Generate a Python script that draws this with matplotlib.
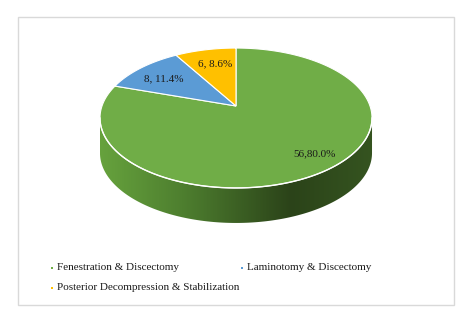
import numpy as np
import matplotlib.pyplot as plt
from matplotlib.patches import Polygon, Rectangle
from matplotlib.colors import LinearSegmentedColormap

plt.rcParams['font.family'] = ['Liberation Serif', 'DejaVu Serif']

# data
labels = ['Fenestration & Discectomy', 'Laminotomy & Discectomy',
          'Posterior Decompression & Stabilization']
counts = [56, 8, 6]
pcts = [80.0, 11.4, 8.6]
label_texts = ['56,80.0%', '8, 11.4%', '6, 8.6%']
colors = ['#70AD47', '#5B9BD5', '#FFC000']

fig = plt.figure(figsize=(4.66, 3.19), dpi=100)
ax = fig.add_axes([0, 0, 1, 1])
ax.set_xlim(0, 466)
ax.set_ylim(319, 0)
ax.axis('off')

# chart frame
ax.add_patch(Rectangle((18, 17), 436, 288, fill=False, ec='#d9d9d9', lw=1))

# perspective view of the pie disc (center projects to x0, y0)
x0, y0 = 236, 106
k = 0.1715
A, B = 134.0, 67.9
depth = 35


def pt(t, dz=0):
    r = np.radians(t)
    w = 1 + k * np.sin(r)
    return x0 + A * np.cos(r) / w, y0 - B * np.sin(r) / w + dz


# slice angles: yellow then blue counterclockwise from the top, green the rest
total = sum(counts)
spans = [c / total * 360 for c in counts]
y_a, y_b = 90, 90 + spans[2]
b_a, b_b = y_b, y_b + spans[1]
g_a, g_b = b_b, 90 + 360
ranges = [(g_a, g_b), (b_a, b_b), (y_a, y_b)]

# side of the disc (visible front part, between the silhouette points)
ts = np.degrees(np.arcsin(k))
t = np.linspace(180 + ts, 360 - ts, 200)
top = np.array([pt(v) for v in t])
bot = np.array([pt(v, depth) for v in t])
side = np.vstack([top, bot[::-1]])
side_patch = Polygon(side, closed=True, fc='none', ec='none')
ax.add_patch(side_patch)
cmap = LinearSegmentedColormap.from_list(
    'side', [(0, '#66a23d'), (0.3, '#4e7f2f'), (0.7, '#2b4319'), (1, '#355420')])
grad = np.linspace(0, 1, 300).reshape(1, -1)
xmin, xmax = side[:, 0].min(), side[:, 0].max()
im = ax.imshow(grad, cmap=cmap, aspect='auto',
               extent=(xmin, xmax, side[:, 1].max() + 2, side[:, 1].min() - 2), zorder=1)
im.set_clip_path(side_patch)

# top face slices
for (s, e), col in zip(ranges, colors):
    tt = np.linspace(s, e, 200)
    arc = np.array([pt(v) for v in tt])
    poly = np.vstack([(x0, y0), arc])
    ax.add_patch(Polygon(poly, closed=True, fc=col, ec='white', lw=0.8, zorder=2))

# white rim on front edge
ax.plot(top[:, 0], top[:, 1], color='white', lw=1, zorder=3)

# data labels
label_pos = [(315, 154), (164, 79), (215, 64)]
for txt, (x, y) in zip(label_texts, label_pos):
    ax.text(x, y, txt, ha='center', va='center', fontsize=8, color='#1a1a1a', zorder=4)

# legend
leg_pos = [(52, 268), (242, 268), (52, 288)]
for lab, col, (x, y) in zip(labels, colors, leg_pos):
    ax.add_patch(Rectangle((x - 1.3, y - 1.3), 2.6, 2.6, fc=col, ec='none'))
    ax.text(x + 5, y, lab, ha='left', va='center', fontsize=8, color='#1a1a1a')

fig.savefig('out.png', dpi=100)
